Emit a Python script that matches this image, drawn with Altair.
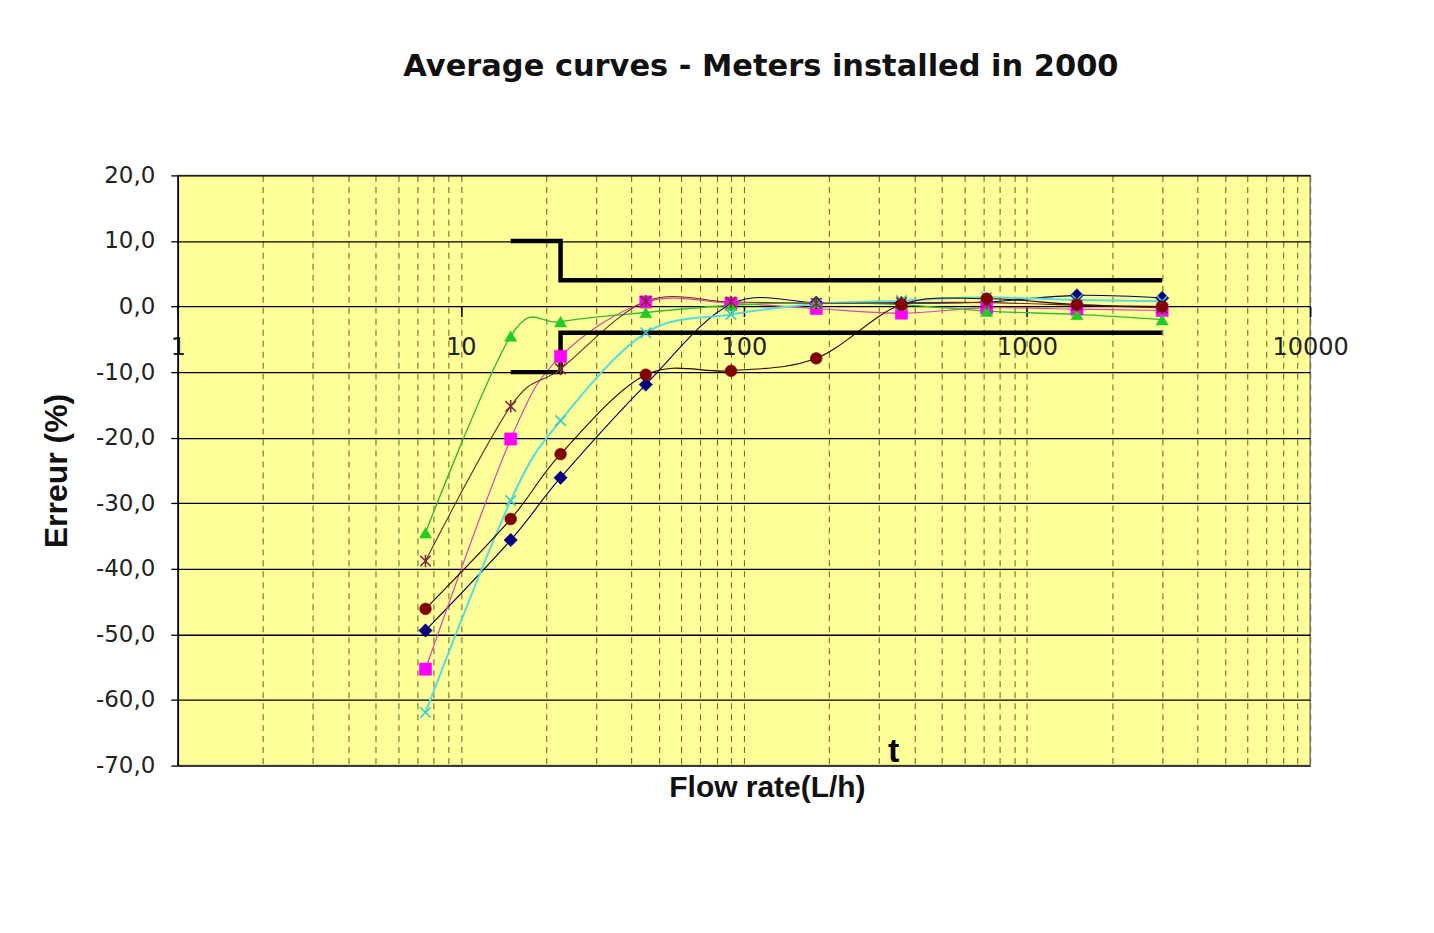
import altair as alt
import pandas as pd

# ---------------- data ----------------
flow = [7.5, 15, 22.5, 45, 90, 180, 360, 720, 1500, 3000]

navy_diamond = [-49.4, -35.6, -26.1, -11.9, 0.4, 0.6, 0.5, 0.7, 1.7, 1.3]
magenta_square = [-55.3, -20.2, -7.6, 0.7, 0.5, -0.3, -1.0, -0.2, -0.4, -0.6]
green_triangle = [-34.5, -4.5, -2.3, -0.9, 0.2, 0.6, 0.3, -0.7, -1.2, -2.0]
cyan_x = [-61.9, -29.6, -17.4, -4.0, -1.2, 0.4, 0.9, 1.4, 1.0, 0.8]
brown_star = [-38.8, -15.2, -9.5, 0.8, 0.7, 0.5, 0.6, 0.6, 0.2, -0.2]
maroon_circle = [-46.1, -32.4, -22.5, -10.4, -9.8, -7.9, 0.3, 1.2, 0.3, 0.0]

limit_x = [15, 22.5, 22.5, 3000]
upper_limit = [10, 10, 4, 4]
lower_limit = [-10, -10, -4, -4]

x_tick_values = [1, 10, 100, 1000, 10000]
x_minor_values = [m * d for d in [1, 10, 100, 1000] for m in range(1, 10)] + [10000]
y_tick_values = [-70, -60, -50, -40, -30, -20, -10, 0, 10, 20]

stray_text_x = [338]
stray_text_y = [-70]
stray_text = ["t"]

# ---------------- styles ----------------
# name, values, marker colour, shape, filled, size, line colour, line width
series = [
    ("navy", navy_diamond, "#000080", "diamond", True, 180, "#000055", 1.1),
    ("magenta", magenta_square, "#FF00FF", "square", True, 150, "#E040B0", 1.2),
    ("green", green_triangle, "#22CC22", "triangle-up", True, 150, "#33BB33", 1.4),
    ("cyan", cyan_x, "#33CCCC", "M-1,-1L1,1M-1,1L1,-1", False, 110, "#55DDDD", 2.0),
    ("brown", brown_star, "#7A2A3A", "M-1,-1L1,1M-1,1L1,-1M0,-1.2L0,1.2", False, 110, "#6A2A2A", 1.1),
    ("maroon", maroon_circle, "#800000", "circle", True, 140, "#300000", 1.1),
]

W, H = 1134, 591
X_DOM = [1, 10000]
Y_DOM = [-70, 20]
y_zero_px = H * (Y_DOM[1] - 0) / (Y_DOM[1] - Y_DOM[0])
axis_offset = -(H - y_zero_px)

xscale = alt.Scale(type="log", domain=X_DOM, nice=False)
yscale = alt.Scale(domain=Y_DOM, nice=False, zero=False)

x_grid_axis = alt.Axis(
    orient="bottom",
    values=x_minor_values, grid=True, gridColor="#6E6E30", gridDash=[6, 5],
    gridWidth=1.1, labels=False, ticks=False, domain=False,
    title="Flow rate(L/h)", titleFont="Liberation Sans", titleFontSize=30,
    titleFontWeight="bold", titleColor="#111111", titleX=590, titleY=22,
    titleBaseline="middle",
)
y_axis = alt.Axis(
    orient="left",
    values=y_tick_values,
    labelExpr="(datum.value < 0 ? '-' : '') + abs(datum.value) + ',0'",
    grid=True, gridColor="#000000", gridWidth=1.3,
    tickColor="#000000", tickSize=7, tickWidth=1.3,
    domainColor="#000000", domainWidth=1.6,
    labelFont="DejaVu Sans", labelFontSize=23, labelColor="#222222",
    labelPadding=16,
    title="Erreur (%)", titleFont="Liberation Sans", titleFontSize=32,
    titleFontWeight="bold", titleColor="#111111", titleX=-121,
    titleBaseline="middle",
)

X = alt.X("x:Q", scale=xscale, axis=x_grid_axis)
Y = alt.Y("y:Q", scale=yscale, axis=y_axis)

layers_lines = []
layers_points = []
for name, vals, mcol, shape, filled, size, lcol, lw in series:
    df = pd.DataFrame({"x": flow, "y": vals, "i": list(range(len(flow)))})
    layers_lines.append(
        alt.Chart(df).mark_line(color=lcol, strokeWidth=lw, interpolate="cardinal")
        .encode(x=X, y=Y, order="i:Q")
    )
    if filled:
        pt = alt.Chart(df).mark_point(shape=shape, filled=True, fill=mcol,
                                      stroke=mcol, strokeWidth=0.5, size=size, opacity=1)
    else:
        pt = alt.Chart(df).mark_point(shape=shape, filled=False, stroke=mcol,
                                      strokeWidth=1.6, size=size, opacity=1)
    layers_points.append(pt.encode(x=X, y=Y))

lim_up = pd.DataFrame({"x": limit_x, "y": upper_limit, "i": [0, 1, 2, 3]})
lim_lo = pd.DataFrame({"x": limit_x, "y": lower_limit, "i": [0, 1, 2, 3]})
limit_layers = [
    alt.Chart(d).mark_line(color="#000000", strokeWidth=4.5, interpolate="linear",
                           strokeCap="butt", strokeJoin="miter")
    .encode(x=X, y=Y, order="i:Q")
    for d in (lim_up, lim_lo)
]

main = alt.layer(*layers_lines, *limit_layers, *layers_points)

# layer carrying the x tick labels on the zero line (same log mapping)
t_df = pd.DataFrame({"x": stray_text_x, "y": stray_text_y, "txt": stray_text})
x_label_axis = alt.Axis(
    orient="bottom",
    values=x_tick_values, format="d", offset=axis_offset, grid=False,
    domain=False, ticks=True, tickSize=10, tickColor="#000000", tickWidth=1.5,
    labelFont="DejaVu Sans", labelFontSize=24, labelColor="#222222",
    labelPadding=19, labelFlush=False, labelOverlap=False, title=None,
)
t_layer = alt.Chart(t_df).mark_text(
    font="Liberation Sans", fontSize=34, fontWeight="bold", color="#000000",
    baseline="alphabetic", dy=-4,
).encode(
    x=alt.X("x:Q", scale=xscale, axis=x_label_axis),
    y=Y,
    text="txt:N",
)

chart = alt.layer(main, t_layer).resolve_scale(x="independent").properties(
    width=W, height=H,
    title=alt.TitleParams(
        "Average curves - Meters installed in 2000", font="DejaVu Sans",
        fontSize=30.5, fontWeight="bold", color="#111111", anchor="middle",
        frame="group", dx=17, offset=58, baseline="alphabetic",
    ),
    autosize=alt.AutoSizeParams(type="none"),
    padding={"left": 170, "top": 167, "right": 116, "bottom": 151},
    background="#FFFFFF",
).configure_view(fill="#FFFF99", stroke="#777777", strokeWidth=1.5)

chart.save("out.html", embed_options={"renderer": "svg", "actions": False})
